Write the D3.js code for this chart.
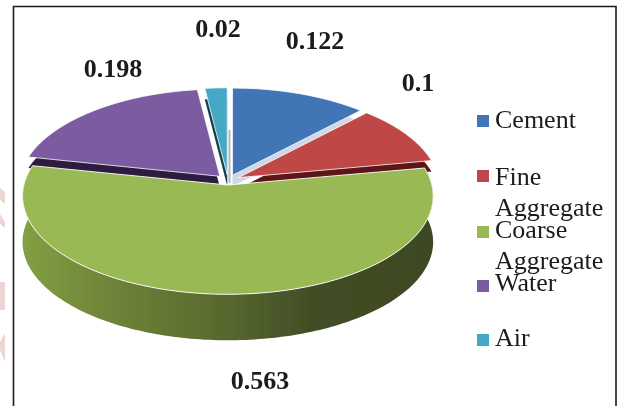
<!DOCTYPE html>
<html><head><meta charset="utf-8">
<script src="https://cdn.jsdelivr.net/npm/d3@7"></script>
<style>html,body{margin:0;padding:0;background:#fff;overflow:hidden}svg{display:block}</style>
</head><body><svg id="c" width="618" height="406"></svg>
<script>
const categories = ["Cement","Fine Aggregate","Coarse Aggregate","Water","Air"];
const values = [0.122,0.1,0.563,0.198,0.02];
const valueLabels = ["0.122","0.1","0.563","0.198","0.02"];
const colors = ["#4274b6","#bf4644","#99b955","#7b5ba1","#45a9c6"];
const innerWall = ["#cfd8e6","#5c1413","#4a5a28","#2d1d40","#123f4c"];

const W=618,H=406,cx=228,cy=180,rx=200,ry=97,persp=0.112,explode=12,exK=0.42,depth=46,innerDepth=11;
const greenIdx=2, greenBoost=1.02;
const labelPos=[[315,49],[418,91],[260,389],[113,77],[218,37]];
const legendX=477,legendSwatch=12,legendLineH=31;
const legendBaselines=[128,185,238,291,346];
const legendSwatchY=[115,170,226,280,334];

const svg=d3.select("#c");
const defs=svg.append("defs");
const grad=defs.append("linearGradient").attr("id","wall").attr("gradientUnits","userSpaceOnUse")
  .attr("x1",22).attr("x2",433).attr("y1",0).attr("y2",0);
[[0,"#83a043"],[0.2,"#6f8539"],[0.45,"#5b6d30"],[0.7,"#434e27"],[1,"#3d4820"]].forEach(s=>grad.append("stop").attr("offset",s[0]).attr("stop-color",s[1]));
const blur=defs.append("filter").attr("id","soft");blur.append("feGaussianBlur").attr("stdDeviation",0.45);

const g=svg.append("g").attr("filter","url(#soft)");
g.append("rect").attr("width",W).attr("height",H).attr("fill","#fff");
// faint watermark fragments at the left edge
["M0,188L5,192V204L0,200Z","M0,214L5,222V228L0,224Z","M0,282H5V310H0Z","M5,333V362L0,350V342Z"].forEach(p=>
  g.append("path").attr("d",p).attr("fill","#ecd6d2"));
// frame
g.append("path").attr("d",`M13.5,${H}V6.5H616V${H}`).attr("fill","none").attr("stroke","#1c1c1c").attr("stroke-width",1.6);

const arcs=d3.pie().sort(null).value(d=>d)(values);
const line=d3.line();
function proj(a,c,boost,dy){
  const s=1/(1+persp*Math.cos(a));
  return [c[0]+rx*Math.sin(a)*s*boost, c[1]-ry*Math.cos(a)*s+(dy||0)];
}
function sample(a0,a1){const n=Math.max(2,Math.ceil(Math.abs(a1-a0)/0.02));return d3.range(n+1).map(i=>a0+(a1-a0)*i/n);}
const slices=arcs.map((d,i)=>{
  const mid=(d.startAngle+d.endAngle)/2;
  const c=[cx+explode*Math.sin(mid),cy-explode*exK*Math.cos(mid)];
  return {i,d,c,boost:i===greenIdx?greenBoost:1};
});
function face(s,dy){
  const pts=sample(s.d.startAngle,s.d.endAngle).map(a=>proj(a,s.c,s.boost,dy));
  return line([[s.c[0],s.c[1]+(dy||0)],...pts])+"Z";
}
// back-to-front order
[4,0,1,3,2].forEach(i=>{
  const s=slices[i];
  if(i===greenIdx){
    const front=sample(s.d.startAngle,s.d.endAngle);
    const top=front.map(a=>proj(a,s.c,s.boost,0));
    const bot=front.map(a=>proj(a,s.c,s.boost,depth)).reverse();
    g.append("path").attr("d",line([...top,...bot])+"Z").attr("fill","url(#wall)");
  } else {
    g.append("path").attr("d",face(s,innerDepth)).attr("fill",innerWall[i]);
  }
  g.append("path").attr("d",face(s,0)).attr("fill",colors[i]).attr("stroke","#fff").attr("stroke-width",i===greenIdx?0.9:0.8);
});
// grey sliver in the gap between Air and Cement
g.append("line").attr("x1",229.5).attr("x2",229.5).attr("y1",130).attr("y2",183).attr("stroke","#b4b8c0").attr("stroke-width",2);

// value labels
valueLabels.forEach((t,i)=>{
  g.append("text").attr("x",labelPos[i][0]).attr("y",labelPos[i][1]).attr("text-anchor","middle")
   .attr("font-family","'Liberation Serif',serif").attr("font-weight","bold").attr("font-size",26).attr("fill","#1a1a1a").text(t);
});
// legend
categories.forEach((t,i)=>{
  const b=legendBaselines[i];
  g.append("rect").attr("x",legendX).attr("y",legendSwatchY[i]).attr("width",legendSwatch).attr("height",legendSwatch).attr("fill",colors[i]);
  const txt=g.append("text").attr("font-family","'Liberation Serif',serif").attr("font-size",26).attr("fill","#1a1a1a");
  t.split(" ").forEach((w,j)=>txt.append("tspan").attr("x",legendX+18).attr("y",b+j*legendLineH).text(w));
});
</script></body></html>
